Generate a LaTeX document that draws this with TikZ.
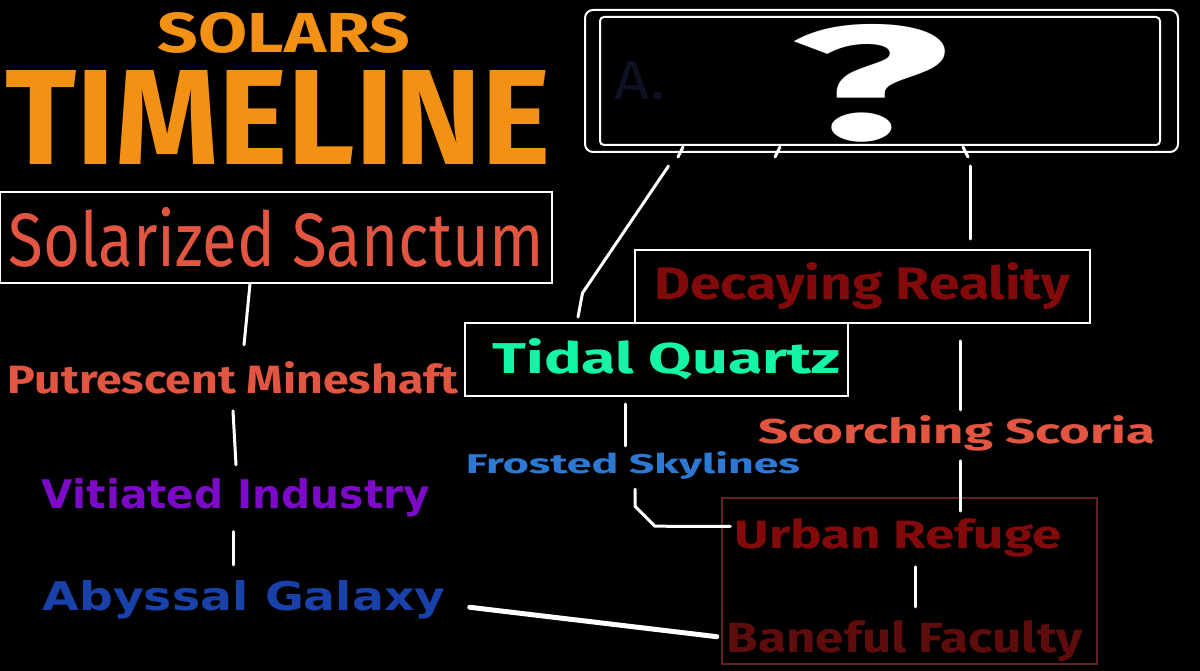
\documentclass[tikz,border=0pt]{standalone}
\usepackage{fontspec}
\usepackage{graphicx}
\usepackage{xcolor}
\setmainfont{Fira Sans}
\newfontfamily\widefont{DejaVu Sans}
\definecolor{solarorange}{RGB}{242,145,20}
\definecolor{coral}{RGB}{225,85,65}
\definecolor{vitiated}{RGB}{125,10,200}
\definecolor{abyss}{RGB}{25,65,170}
\definecolor{decay}{RGB}{130,10,10}
\definecolor{quartz}{RGB}{20,245,165}
\definecolor{frost}{RGB}{45,120,210}
\definecolor{bane}{RGB}{95,12,12}
\definecolor{refugeedge}{RGB}{95,35,35}
\definecolor{ghost}{RGB}{14,17,34}
\newcommand{\Fit}[3]{\resizebox{#1pt}{#2pt}{#3}}
\tikzstyle{era}=[inner sep=0pt, anchor=base]
\tikzstyle{frame}=[draw=white, line width=2pt, inner sep=0pt]
\tikzstyle{link}=[white, line width=3pt, line cap=round]

\begin{document}
\begin{tikzpicture}[x=1pt,y=-1pt]
  \fill[black] (0,0) rectangle (1200,671);
  \useasboundingbox (0,0) rectangle (1200,671);

  %% Title
  \draw (284,53) node[era, text=solarorange] (solars) {\Fit{252}{40}{\bfseries SOLARS}};
  \draw (278,165) node[era, text=solarorange] (timeline) {\Fit{545}{94}{\bfseries TIMELINE}};

  %% Left column
  \draw (276,237.5) node[frame, minimum width=552pt, minimum height=91pt, text=coral] (sanct) {\Fit{535}{59}{Solarized Sanctum}};
  \draw (233,393) node[era, text=coral] (mine) {\Fit{450}{32}{\bfseries Putrescent Mineshaft}};
  \draw (236,508) node[era, text=vitiated] (vit) {\Fit{388}{30}{\widefont\bfseries Vitiated Industry}};
  \draw (244,610) node[era, text=abyss] (aby) {\Fit{403}{30}{\widefont\bfseries Abyssal Galaxy}};

  %% Unknown box
  \draw (881.5,81) node[frame, rounded corners=8pt, minimum width=593pt, minimum height=142pt] (qbox) {};
  \draw (880,81) node[frame, rounded corners=4pt, minimum width=560pt, minimum height=128pt] (qinner) {};
  \draw (870,140) node[era, text=white] (qmark) {\Fit{160}{115}{\bfseries ?}};
  \draw (640,100) node[era, text=ghost] (ghostA) {\Fit{50}{38}{A.}};

  %% Right column
  \draw (862.5,286.5) node[frame, minimum width=455pt, minimum height=73pt, text=decay] (decay) {\Fit{416}{37}{\bfseries Decaying Reality}};
  \draw (656.5,359.5) node[frame, minimum width=383pt, minimum height=73pt, text=quartz] (tidal) {\hspace*{20pt}\Fit{348}{35}{\bfseries Tidal Quartz}};
  \draw (633,473) node[era, text=frost] (frost) {\Fit{334}{22}{\bfseries Frosted Skylines}};
  \draw (957,443) node[era, text=coral] (scor) {\Fit{397}{28}{\bfseries Scorching Scoria}};
  \draw (909.5,581) node[draw=refugeedge, line width=2pt, inner sep=0pt, minimum width=375pt, minimum height=166pt] (refuge) {};
  \draw (898,548) node[era, text=decay] (urban) {\Fit{327}{30}{\bfseries Urban Refuge}};
  \draw (905,652) node[era, text=bane] (bane) {\Fit{356}{32}{\bfseries Baneful Faculty}};

  %% Links
  \draw[link] ([xshift=-26]sanct.south) -- ([xshift=11,yshift=16]mine.north);
  \draw[link] ([yshift=-17]mine.south) -- ([yshift=13]vit.north);
  \draw[link] ([xshift=-3,yshift=-15]vit.south) -- ([xshift=-11,yshift=15]aby.north);
  \draw[link, line width=5pt] ([xshift=24,yshift=-8]aby.east) -- ([xshift=-10,yshift=4]bane.west);

  \draw[link] ([xshift=-198.5,yshift=6]qbox.south) -- ++(-5,10);
  \draw[link] ([xshift=-101.5,yshift=6]qbox.south) -- ++(-5,10);
  \draw[link] ([xshift=81.5,yshift=6]qbox.south) -- ++(5,10);
  \draw[link] ([xshift=-213,yshift=-13]qbox.south) -- ++(-86,127) -- ([xshift=-78.5,yshift=5]tidal.north);
  \draw[link] ([xshift=88.5,yshift=-13]qbox.south) -- ([xshift=107.5,yshift=10]decay.north);
  \draw[link] ([xshift=-31.5,yshift=-7]tidal.south) -- ([xshift=-8,yshift=5]frost.north);
  \draw[link] ([xshift=2,yshift=-10]frost.south) -- ++(0,17) -- ++(20,20) -- ([xshift=-4,yshift=11]urban.west);
  \draw[link] ([xshift=97.5,yshift=-17]decay.south) -- ([xshift=3,yshift=5]scor.north);
  \draw[link] ([xshift=3,yshift=-10]scor.south) -- ([xshift=50.5,yshift=-14]refuge.north);
  \draw[link] ([xshift=17,yshift=-10]urban.south) -- ([xshift=10,yshift=13]bane.north);
\end{tikzpicture}
\end{document}
